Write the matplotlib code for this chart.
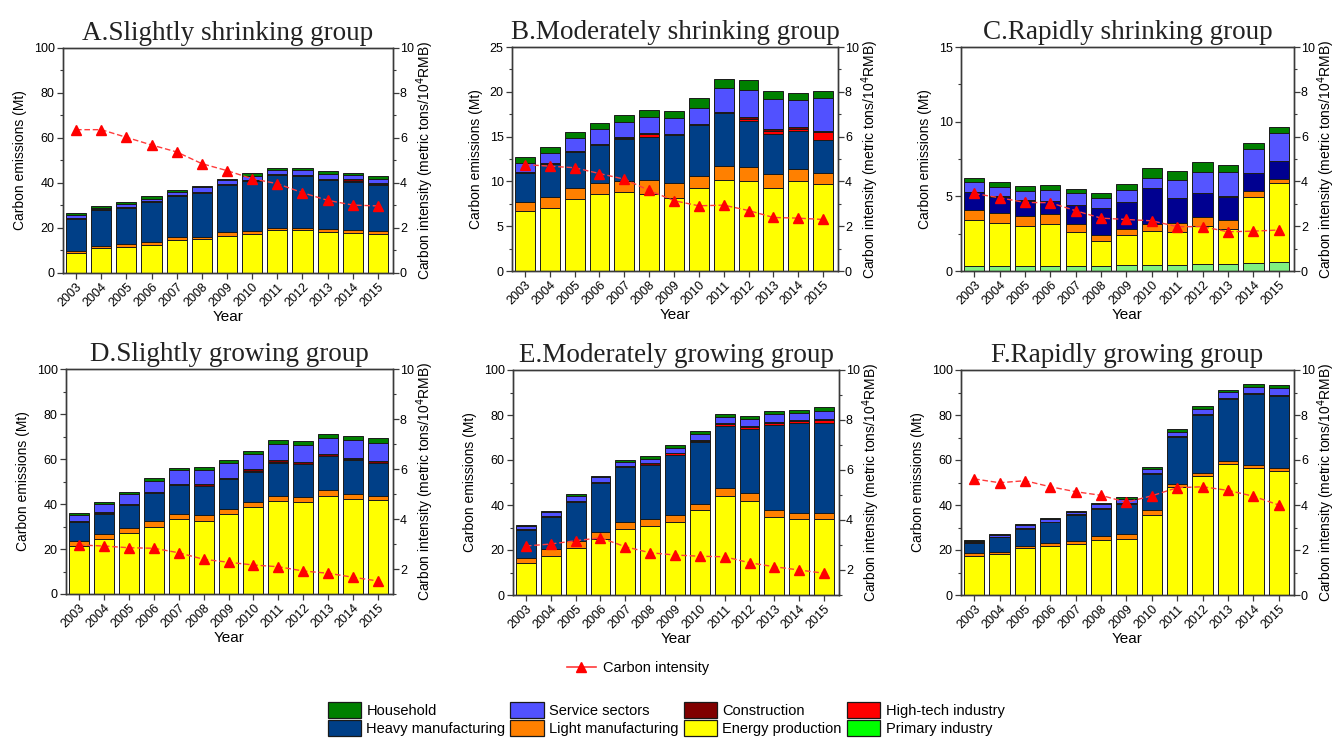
import matplotlib
matplotlib.use("Agg")
import matplotlib.pyplot as plt
from matplotlib.ticker import AutoMinorLocator, MultipleLocator
from matplotlib.patches import Patch
from matplotlib.lines import Line2D
import numpy as np

plt.rcParams["font.family"] = ["Liberation Sans", "DejaVu Sans"]

years = [2003, 2004, 2005, 2006, 2007, 2008, 2009, 2010, 2011, 2012, 2013, 2014, 2015]

sectors = ["Primary industry", "Energy production", "Light manufacturing",
           "Heavy manufacturing", "High-tech industry", "Construction",
           "Service sectors", "Household"]
sector_colors = {
    "Household": "#008000",
    "Service sectors": "#5151FF",
    "Construction": "#800000",
    "High-tech industry": "#FF0000",
    "Heavy manufacturing": "#003F87",
    "Light manufacturing": "#FF8000",
    "Energy production": "#FFFF00",
    "Primary industry": "#00FF00",
}

# --- A. Slightly shrinking group (Mt) ---
a_energy = [8.9, 11.1, 11.6, 12.6, 14.8, 15.1, 16.6, 17.5, 19.0, 19.0, 18.2, 17.8, 17.5]
a_light = [0.9, 0.9, 1.3, 1.3, 1.2, 1.0, 1.5, 1.3, 1.0, 1.0, 1.4, 1.3, 1.0]
a_heavy = [14.3, 15.9, 16.1, 17.7, 18.1, 19.6, 21.2, 22.2, 23.4, 23.3, 21.6, 21.3, 20.8]
a_hightech = [0.1, 0.1, 0.1, 0.1, 0.1, 0.1, 0.1, 0.1, 0.1, 0.1, 0.2, 0.7, 0.2]
a_construction = [0.4, 0.3, 0.4, 0.3, 0.3, 0.3, 0.3, 0.4, 0.4, 0.3, 0.5, 0.5, 0.4]
a_service = [1.0, 0.7, 1.0, 1.0, 1.5, 2.0, 1.6, 1.8, 2.0, 1.9, 2.2, 2.0, 2.0]
a_household = [1.1, 0.8, 1.1, 1.1, 1.0, 0.6, 0.5, 1.0, 0.9, 1.1, 1.1, 0.8, 1.1]
a_intensity = [6.37, 6.37, 6.03, 5.69, 5.38, 4.86, 4.55, 4.19, 3.97, 3.57, 3.23, 3.02, 2.98]

# --- B. Moderately shrinking group (Mt) ---
b_energy = [6.65, 7.06, 7.99, 8.54, 8.77, 8.58, 8.20, 9.21, 10.14, 10.07, 9.29, 10.07, 9.70]
b_light = [1.08, 1.15, 1.22, 1.30, 1.26, 1.56, 1.64, 1.41, 1.60, 1.52, 1.52, 1.30, 1.22]
b_heavy = [3.23, 3.74, 4.09, 4.24, 4.75, 4.79, 5.32, 5.65, 5.91, 5.16, 4.53, 4.27, 3.75]
b_hightech = [0.02, 0.02, 0.02, 0.02, 0.03, 0.41, 0.03, 0.02, 0.02, 0.25, 0.26, 0.26, 0.82]
b_construction = [0.10, 0.10, 0.10, 0.11, 0.12, 0.11, 0.15, 0.11, 0.11, 0.15, 0.20, 0.15, 0.11]
b_service = [0.94, 1.06, 1.46, 1.60, 1.67, 1.75, 1.78, 1.75, 2.60, 3.10, 3.44, 3.08, 3.75]
b_household = [0.67, 0.67, 0.63, 0.67, 0.78, 0.74, 0.71, 1.11, 1.00, 1.04, 0.86, 0.78, 0.75]
b_intensity = [4.75, 4.68, 4.61, 4.35, 4.10, 3.60, 3.14, 2.91, 2.94, 2.70, 2.39, 2.36, 2.30]

# --- C. Rapidly shrinking group (Mt) ---
c_primary = [0.36, 0.36, 0.36, 0.36, 0.36, 0.31, 0.40, 0.38, 0.40, 0.47, 0.47, 0.53, 0.60]
c_energy = [3.05, 2.83, 2.67, 2.78, 2.23, 1.72, 2.01, 2.32, 2.23, 2.56, 2.34, 4.44, 5.31]
c_light = [0.67, 0.67, 0.65, 0.65, 0.53, 0.38, 0.38, 0.42, 0.56, 0.56, 0.60, 0.40, 0.26]
c_heavy = [1.18, 1.11, 1.04, 0.89, 1.29, 1.82, 1.82, 2.41, 1.67, 1.60, 1.56, 1.20, 1.18]
c_construction = [0.02, 0.02, 0.02, 0.02, 0.02, 0.02, 0.02, 0.02, 0.02, 0.02, 0.02, 0.02, 0.02]
c_service = [0.69, 0.65, 0.63, 0.72, 0.76, 0.65, 0.79, 0.71, 1.20, 1.43, 1.65, 1.61, 1.88]
c_household = [0.29, 0.29, 0.31, 0.37, 0.29, 0.32, 0.42, 0.65, 0.61, 0.69, 0.47, 0.40, 0.38]
c_intensity = [3.46, 3.27, 3.06, 3.05, 2.69, 2.36, 2.30, 2.24, 1.98, 1.98, 1.75, 1.78, 1.83]

# --- D. Slightly growing group (Mt) ---
d_energy = [21.3, 24.4, 27.0, 29.9, 33.3, 32.6, 35.6, 38.5, 41.3, 40.7, 43.7, 42.2, 41.6]
d_light = [2.3, 2.3, 2.3, 2.5, 2.4, 2.5, 2.0, 2.4, 2.4, 2.6, 2.4, 2.2, 2.1]
d_heavy = [8.3, 9.0, 10.3, 12.3, 12.6, 13.0, 13.5, 13.5, 14.7, 14.6, 15.1, 15.3, 14.4]
d_hightech = [0.1, 0.1, 0.1, 0.1, 0.1, 0.1, 0.1, 0.1, 0.1, 0.1, 0.1, 0.4, 0.1]
d_construction = [0.4, 0.5, 0.4, 0.4, 0.6, 0.5, 0.5, 0.9, 1.1, 0.7, 0.8, 0.5, 0.8]
d_service = [2.7, 3.7, 4.3, 5.2, 6.0, 6.4, 6.7, 6.8, 7.1, 7.5, 7.1, 7.7, 8.0]
d_household = [0.9, 0.7, 1.1, 1.2, 1.1, 1.3, 1.2, 1.5, 1.7, 1.8, 1.9, 1.9, 2.2]
d_intensity = [2.96, 2.92, 2.85, 2.83, 2.65, 2.39, 2.27, 2.16, 2.09, 1.92, 1.83, 1.67, 1.52]

# --- E. Moderately growing group (Mt) ---
e_energy = [14.1, 17.5, 20.7, 25.0, 29.3, 30.7, 32.6, 37.8, 44.1, 41.9, 34.5, 33.8, 33.8]
e_light = [2.5, 2.9, 3.3, 3.1, 3.3, 3.1, 3.0, 2.8, 3.6, 3.3, 3.3, 2.8, 2.8]
e_heavy = [12.3, 14.1, 17.5, 21.8, 24.1, 24.0, 26.6, 27.3, 27.4, 28.4, 37.9, 39.7, 39.7]
e_hightech = [0.1, 0.1, 0.1, 0.1, 0.1, 0.1, 0.8, 0.7, 0.8, 1.2, 0.7, 0.9, 1.3]
e_construction = [0.2, 0.4, 0.3, 0.4, 0.5, 0.6, 0.3, 0.4, 0.4, 0.5, 0.5, 0.4, 0.6]
e_service = [1.5, 1.7, 2.0, 1.9, 2.0, 1.9, 2.2, 2.6, 2.7, 2.8, 3.4, 3.1, 3.4]
e_household = [0.3, 0.5, 0.8, 0.7, 0.8, 1.2, 1.2, 1.3, 1.3, 1.5, 1.6, 1.5, 1.8]
e_intensity = [2.96, 3.04, 3.17, 3.29, 2.93, 2.69, 2.60, 2.55, 2.53, 2.29, 2.13, 2.00, 1.87]

# --- F. Rapidly growing group (Mt) ---
f_energy = [17.3, 18.1, 20.9, 21.8, 22.7, 24.4, 25.0, 35.6, 48.1, 53.0, 58.1, 56.6, 55.3]
f_light = [1.2, 1.2, 1.0, 1.2, 1.4, 1.8, 2.1, 2.2, 1.1, 1.4, 1.6, 1.2, 1.3]
f_heavy = [4.8, 6.3, 7.6, 9.3, 11.3, 12.2, 13.3, 16.0, 20.9, 25.5, 27.6, 31.4, 32.0]
f_hightech = [0.1, 0.1, 0.1, 0.1, 0.1, 0.1, 0.1, 0.1, 0.1, 0.1, 0.1, 0.1, 0.1]
f_construction = [0.3, 0.2, 0.3, 0.2, 0.4, 0.3, 0.4, 0.3, 0.3, 0.3, 0.3, 0.3, 0.3]
f_service = [0.4, 0.8, 1.2, 1.2, 1.1, 1.8, 1.9, 1.7, 2.1, 2.4, 2.4, 3.0, 3.1]
f_household = [0.3, 0.4, 0.6, 0.6, 0.5, 0.4, 0.8, 1.1, 1.0, 1.2, 1.0, 1.2, 1.2]
f_intensity = [5.16, 4.99, 5.08, 4.81, 4.59, 4.43, 4.12, 4.41, 4.77, 4.81, 4.65, 4.39, 4.00]

panels = [
    ("A.Slightly shrinking group",
     {"Energy production": a_energy, "Light manufacturing": a_light,
      "Heavy manufacturing": a_heavy, "High-tech industry": a_hightech,
      "Construction": a_construction, "Service sectors": a_service,
      "Household": a_household}, a_intensity),
    ("B.Moderately shrinking group",
     {"Energy production": b_energy, "Light manufacturing": b_light,
      "Heavy manufacturing": b_heavy, "High-tech industry": b_hightech,
      "Construction": b_construction, "Service sectors": b_service,
      "Household": b_household}, b_intensity),
    ("C.Rapidly shrinking group",
     {"Primary industry": c_primary, "Energy production": c_energy,
      "Light manufacturing": c_light, "Heavy manufacturing": c_heavy,
      "Construction": c_construction, "Service sectors": c_service,
      "Household": c_household}, c_intensity),
    ("D.Slightly growing group",
     {"Energy production": d_energy, "Light manufacturing": d_light,
      "Heavy manufacturing": d_heavy, "High-tech industry": d_hightech,
      "Construction": d_construction, "Service sectors": d_service,
      "Household": d_household}, d_intensity),
    ("E.Moderately growing group",
     {"Energy production": e_energy, "Light manufacturing": e_light,
      "Heavy manufacturing": e_heavy, "High-tech industry": e_hightech,
      "Construction": e_construction, "Service sectors": e_service,
      "Household": e_household}, e_intensity),
    ("F.Rapidly growing group",
     {"Energy production": f_energy, "Light manufacturing": f_light,
      "Heavy manufacturing": f_heavy, "High-tech industry": f_hightech,
      "Construction": f_construction, "Service sectors": f_service,
      "Household": f_household}, f_intensity),
]

# axes rectangles in pixels (left, top, width, height)
W, H = 1334, 738
rects = [
    (63, 48, 330, 225), (512, 47, 326, 224), (961, 47, 333, 224),
    (66, 369, 327, 225), (513, 370, 326, 225), (961, 370, 333, 225),
]
left_limits = [(0, 100, 20), (0, 25, 5), (0, 15, 5), (0, 100, 20), (0, 100, 20), (0, 100, 20)]
right_limits = [(0, 10), (0, 10), (0, 10), (1, 10), (1, 10), (0, 10)]
right_labelpad = [0, 0, 0, 0, 0, 0]

# panel C uses its own palette for a few sectors
panel_color_override = {2: {"Heavy manufacturing": "#000090",
                            "Primary industry": "#80F080",
                            "Service sectors": "#5555FF"}}

fig = plt.figure(figsize=(W / 100, H / 100), dpi=100)
x = np.arange(len(years))
spine_col = "#3a3a3a"

for i, (title, series, intensity) in enumerate(panels):
    l, t, w, h = rects[i]
    ax = fig.add_axes([l / W, 1 - (t + h) / H, w / W, h / H])
    ax2 = ax.twinx()
    colors = dict(sector_colors)
    colors.update(panel_color_override.get(i, {}))

    bottom = np.zeros(len(years))
    for s in sectors:
        if s not in series:
            continue
        vals = np.array(series[s], dtype=float)
        ax.bar(x, vals, width=0.8, bottom=bottom, color=colors[s],
               edgecolor="#1a1a1a", linewidth=0.7, zorder=2)
        bottom += vals

    ax2.plot(x, intensity, linestyle=(0, (4, 2)), color="#FF3b3b", linewidth=1.0,
             marker="^", markersize=6.5, markerfacecolor="#FF0000",
             markeredgecolor="#FF0000", zorder=3)

    lo, hi, step = left_limits[i]
    ax.set_ylim(lo, hi)
    ax.yaxis.set_major_locator(MultipleLocator(step))
    ax.yaxis.set_minor_locator(AutoMinorLocator(2))
    rlo, rhi = right_limits[i]
    ax2.set_ylim(rlo, rhi)
    ax2.set_yticks([v for v in range(0, 11, 2) if v >= rlo])
    ax2.yaxis.set_minor_locator(MultipleLocator(1))

    ax.set_xlim(-0.52, len(years) - 1 + 0.6)
    ax.set_xticks(x)
    ax.set_xticklabels([str(y) for y in years], rotation=45, ha="right",
                       rotation_mode="anchor", fontsize=9)
    for a in (ax, ax2):
        a.tick_params(axis="both", which="major", direction="out", length=4,
                      width=0.9, color=spine_col, labelsize=9, pad=2)
        a.tick_params(axis="both", which="minor", direction="out", length=2,
                      width=0.8, color=spine_col)
        for sp in a.spines.values():
            sp.set_color(spine_col)
            sp.set_linewidth(1.0)
    ax.tick_params(axis="x", which="minor", bottom=False)
    ax2.tick_params(axis="y", which="major", pad=1)

    ax.set_ylabel("Carbon emissions (Mt)", fontsize=10, labelpad=5)
    ax2.set_ylabel("Carbon intensity (metric tons/10$^4$RMB)", fontsize=10,
                   labelpad=right_labelpad[i])
    ax.set_xlabel("Year", fontsize=11, labelpad=0)
    ax.set_title(title, family=["Liberation Serif", "DejaVu Serif"], fontsize=19.5,
                 pad=6, color="#222222")

# legend for the intensity line
line_handle = Line2D([], [], color="#FF3b3b", linewidth=1.2, marker="^",
                     markersize=7, markerfacecolor="#FF0000", markeredgecolor="#FF0000")
fig.legend([line_handle], ["Carbon intensity"], loc="center",
           bbox_to_anchor=(638 / W, 1 - 668 / H), frameon=False, fontsize=10.5,
           handlelength=2.0, handletextpad=0.5)

# legend for the sectors (4 columns x 2 rows)
legend_order = ["Household", "Heavy manufacturing", "Service sectors",
                "Light manufacturing", "Construction", "Energy production",
                "High-tech industry", "Primary industry"]
handles = [Patch(facecolor=sector_colors[s], edgecolor="#1a1a1a", linewidth=0.9)
           for s in legend_order]
fig.legend(handles, legend_order, loc="center", ncol=4,
           bbox_to_anchor=(666 / W, 1 - 719 / H), frameon=False, fontsize=10.5,
           handlelength=2.3, handleheight=1.3, handletextpad=0.35,
           columnspacing=0.35, labelspacing=0.1, borderpad=0.1)

fig.savefig("out.png", dpi=100)
